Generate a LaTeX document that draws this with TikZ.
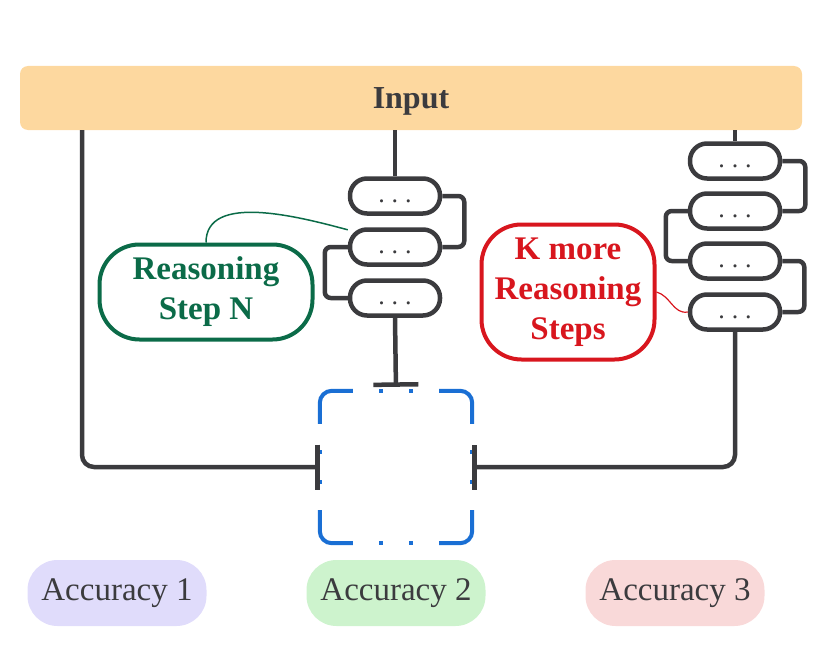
\documentclass[tikz,border=0pt]{standalone}
\usepackage{fontspec}
\setmainfont{Liberation Serif}
\usetikzlibrary{arrows.meta,calc}
\definecolor{inputbg}{HTML}{FDD89F}
\definecolor{ink}{HTML}{3B3B3E}
\definecolor{stepgreen}{HTML}{0B6B48}
\definecolor{kred}{HTML}{D8161E}
\definecolor{outblue}{HTML}{1A6FD4}
\definecolor{accA}{HTML}{E0DCFB}
\definecolor{accB}{HTML}{CDF3CD}
\definecolor{accC}{HTML}{F9D9D9}
\newcommand{\stepdots}{.\hspace{7pt}.\hspace{7pt}.}

\begin{document}
\begin{tikzpicture}[x=1pt,y=-1pt,
  pill/.style={draw=ink,fill=white,line width=4.5pt,rounded corners=17pt,minimum width=90pt,minimum height=35pt,
    inner sep=0pt,text height=12pt,text depth=0pt,text=ink,font=\fontsize{26}{26}\selectfont},
  link/.style={draw=ink,line width=4.5pt,rounded corners=6pt},
  stop/.style={-{Bar[width=45pt]}},
  outline/.style={outblue,line width=4pt,rounded corners=12pt},
  note/.style={line width=4pt,rounded corners=40pt,align=center,font=\bfseries\fontsize{33}{40}\selectfont},
  acc/.style={rounded corners=30pt,minimum width=179pt,minimum height=66pt,font=\fontsize{33}{36}\selectfont}]
  \useasboundingbox (0,0) rectangle (830,669);

  \node[fill=inputbg,rounded corners=8pt,minimum width=782pt,minimum height=64pt,text=ink,text depth=0pt,
    font=\bfseries\fontsize{32}{36}\selectfont] (input) at (411,98) {Input};

  % middle chain
  \node[pill] (m1) at (395,196) {\stepdots};
  \node[pill] (m2) at (395,247) {\stepdots};
  \node[pill] (m3) at (395,298) {\stepdots};

  % right chain
  \node[pill] (r1) at (735,161) {\stepdots};
  \node[pill] (r2) at (735,211) {\stepdots};
  \node[pill] (r3) at (735,261) {\stepdots};
  \node[pill] (r4) at (735,312) {\stepdots};

  % dashed output box
  \node[minimum width=152pt,minimum height=152pt,inner sep=0pt] (outbox) at (396,467) {};
  \foreach \c/\dx/\dy in {north east/-1/1, south east/-1/-1, south west/1/-1, north west/1/1}
    \draw[outline] ($(outbox.\c)+(\dx*33,0)$) -- (outbox.\c) -- +(0,\dy*33);
  \foreach \s in {-15,15} {
    \fill[outblue] ($(outbox.north)+(\s,0)$) +(-2,-2) rectangle +(2,2);
    \fill[outblue] ($(outbox.south)+(\s,0)$) +(-2,-2) rectangle +(2,2);
    \fill[outblue] ($(outbox.west)+(0,\s)$) +(-2,-2) rectangle +(2,2);
    \fill[outblue] ($(outbox.east)+(0,\s)$) +(-2,-2) rectangle +(2,2);
  }

  \coordinate (lft) at (82,130);
  \draw[link] (input.south -| m1) -- (m1.north);
  \draw[link] (m1.east) -- ++(22,0) |- (m2.east);
  \draw[link] (m2.west) -- ++(-23,0) |- (m3.west);
  \draw[link,stop,shorten >=4pt] (m3.south) -- (outbox.north);

  \draw[link] (input.south -| r1) -- (r1.north);
  \draw[link] (r1.east) -- ++(23,0) |- (r2.east);
  \draw[link] (r2.west) -- ++(-22,0) |- (r3.west);
  \draw[link] (r3.east) -- ++(22,0) |- (r4.east);
  \draw[link,stop,rounded corners=12pt] (r4.south) |- (outbox.east);

  \draw[link,stop,rounded corners=12pt] (input.south -| lft) |- (outbox.west);

  \node[note,draw=stepgreen,text=stepgreen,minimum width=213pt,minimum height=95pt] (stepn) at (206,292) {Reasoning\\Step N};
  \node[note,draw=kred,text=kred,minimum width=173pt,minimum height=135pt] (kmore) at (568,292) {K more\\Reasoning\\Steps};
  \draw[stepgreen,line width=1.5pt] (stepn.north) to[out=90,in=165,looseness=0.9] (m2.160);
  \draw[kred,line width=1.2pt] (kmore.east) to[out=-15,in=190] (r4.west);

  \node[acc,fill=accA,text=ink] (acc1) at (117,593) {Accuracy 1};
  \node[acc,fill=accB,text=ink] (acc2) at (396,593) {Accuracy 2};
  \node[acc,fill=accC,text=ink] (acc3) at (675,593) {Accuracy 3};
\end{tikzpicture}
\end{document}
